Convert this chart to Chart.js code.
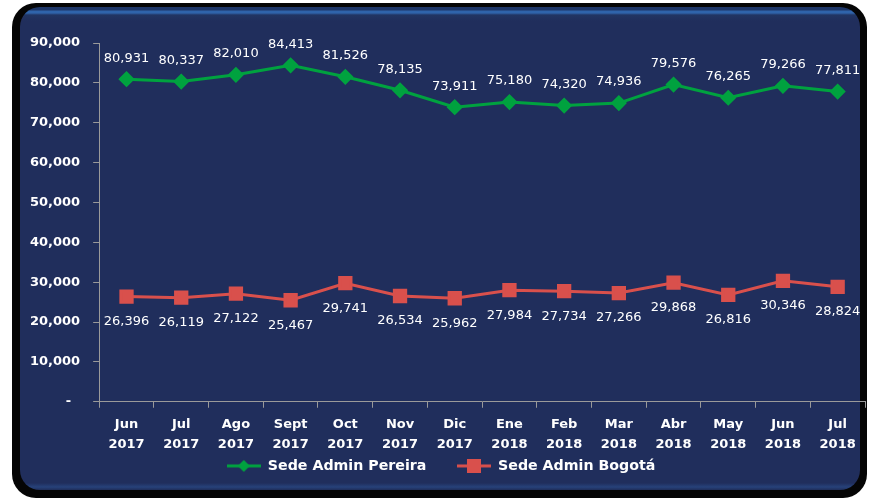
<!DOCTYPE html>
<html>
<head>
<meta charset="utf-8">
<script src="https://cdn.jsdelivr.net/npm/chart.js@4/dist/chart.umd.min.js"></script>
<style>
  body { margin: 0; background: #ffffff; }
  #marco { position: absolute; left: 12px; top: 3px; width: 855px; height: 495px; border-radius: 24px; background: #050505; }
  #panel { position: absolute; left: 20px; top: 7px; width: 840px; height: 483px; border-radius: 20px;
    background: linear-gradient(to bottom, #1d3668 0px, #1d3668 3px, #2f64ab 4px, #2f64ab 6px, #213563 8px, #202e5c 14px, #202e5c 476px, #27427a 480px, #1f2d5a 483px); }
  #wrap { position: absolute; left: 0; top: 0; width: 872px; height: 499px; }
</style>
</head>
<body>
<div id="marco"></div>
<div id="panel"></div>
<div id="wrap"><canvas id="grafica" width="872" height="499"></canvas></div>
<script>
//Datos
const meses = [['Jun','2017'],['Jul','2017'],['Ago','2017'],['Sept','2017'],['Oct','2017'],['Nov','2017'],['Dic','2017'],
               ['Ene','2018'],['Feb','2018'],['Mar','2018'],['Abr','2018'],['May','2018'],['Jun','2018'],['Jul','2018']];
const pereira = [80931, 80337, 82010, 84413, 81526, 78135, 73911, 75180, 74320, 74936, 79576, 76265, 79266, 77811];
const bogota = [26396, 26119, 27122, 25467, 29741, 26534, 25962, 27984, 27734, 27266, 29868, 26816, 30346, 28824];

const verde = '#00a23f';
const rojo = '#d9504c';
const fuente = "'DejaVu Sans', sans-serif";

//icono de leyenda: linea con marcador
function iconoLeyenda(color, forma) {
  const c = document.createElement('canvas');
  c.width = 34; c.height = 14;
  const x = c.getContext('2d');
  x.strokeStyle = color; x.lineWidth = 3;
  x.beginPath(); x.moveTo(0, 7); x.lineTo(34, 7); x.stroke();
  x.fillStyle = color;
  if (forma === 'rombo') {
    x.beginPath(); x.moveTo(17, 1); x.lineTo(23, 7); x.lineTo(17, 13); x.lineTo(11, 7); x.closePath(); x.fill();
  } else {
    x.fillRect(10, 0, 14, 14);
  }
  return c;
}

//etiquetas de datos
const etiquetas = {
  id: 'etiquetas',
  afterDatasetsDraw(chart) {
    const ctx = chart.ctx;
    ctx.save();
    ctx.font = '13px ' + fuente;
    ctx.fillStyle = '#ffffff';
    ctx.textAlign = 'center';
    ctx.textBaseline = 'middle';
    chart.data.datasets.forEach((ds, i) => {
      const meta = chart.getDatasetMeta(i);
      const dy = i === 0 ? -21 : 25;
      meta.data.forEach((p, j) => {
        ctx.fillText(ds.data[j].toLocaleString('en-US'), p.x, p.y + dy);
      });
    });
    ctx.restore();
  }
};

const grafica = new Chart(document.getElementById('grafica'), {
  type: 'line',
  data: {
    labels: meses,
    datasets: [{
      label: 'Sede Admin Pereira',
      data: pereira,
      borderColor: verde,
      backgroundColor: verde,
      borderWidth: 3,
      pointStyle: 'rectRot',
      pointRadius: 6,
      pointHoverRadius: 6,
      tension: 0
    }, {
      label: 'Sede Admin Bogotá',
      data: bogota,
      borderColor: rojo,
      backgroundColor: rojo,
      borderWidth: 3,
      pointStyle: 'rect',
      pointRadius: 8,
      pointHoverRadius: 8,
      tension: 0
    }]
  },
  options: {
    responsive: false,
    animation: false,
    layout: { autoPadding: false, padding: { left: 17, right: 7, top: 43, bottom: 16 } },
    scales: {
      x: {
        offset: true,
        //menos alto para acercar las etiquetas a la leyenda
        afterFit: s => { s.paddingLeft = 0; s.paddingRight = 0; s.height -= 4; },
        grid: { display: true, drawOnChartArea: false, offset: true, color: '#9a9a9a', tickLength: 6 },
        border: { color: '#9a9a9a', width: 1 },
        ticks: { color: '#ffffff', font: { family: fuente, size: 13, weight: 'bold', lineHeight: 1.54 }, padding: 7, maxRotation: 0, autoSkip: false }
      },
      y: {
        min: 0,
        max: 90000,
        grid: { display: true, drawOnChartArea: false, color: '#9a9a9a', tickLength: 6 },
        border: { color: '#9a9a9a', width: 1 },
        ticks: {
          stepSize: 10000,
          color: '#ffffff',
          font: { family: fuente, size: 13, weight: 'bold' },
          padding: 13,
          callback: v => v === 0 ? '-  ' : v.toLocaleString('en-US')
        }
      }
    },
    plugins: {
      legend: {
        position: 'bottom',
        labels: {
          color: '#ffffff',
          font: { family: fuente, size: 14.2, weight: 'bold', lineHeight: 0.6 },
          usePointStyle: true,
          pointStyleWidth: 34,
          boxHeight: 8,
          padding: 1,
          //espacios al final para separar las dos entradas
          generateLabels: chart => chart.data.datasets.map((ds, i) => ({
            text: i === 0 ? ds.label + '      ' : ds.label,
            fontColor: '#ffffff',
            pointStyle: iconoLeyenda(ds.borderColor, i === 0 ? 'rombo' : 'cuadro'),
            lineWidth: 0,
            strokeStyle: 'transparent',
            fillStyle: ds.borderColor,
            datasetIndex: i
          }))
        }
      },
      tooltip: { enabled: false }
    }
  },
  plugins: [etiquetas]
});
</script>
</body>
</html>
